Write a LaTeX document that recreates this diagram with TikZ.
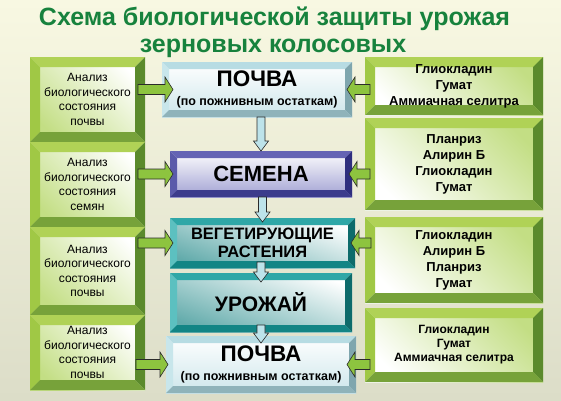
\documentclass[tikz,border=0pt]{standalone}
\usepackage{fontspec}
\setmainfont{Liberation Sans}
\usetikzlibrary{positioning, calc}

\definecolor{bgtop}{HTML}{F8F8E2}
\definecolor{bgbot}{HTML}{DCDDC8}
\definecolor{titlegreen}{HTML}{17823D}
\definecolor{gtop}{HTML}{B0D256}
\definecolor{gleft}{HTML}{A0C845}
\definecolor{gright}{HTML}{5B8A2C}
\definecolor{gbot}{HTML}{77A23A}
\definecolor{ginner}{HTML}{C3DE84}
\definecolor{ctop}{HTML}{B7DCE3}
\definecolor{cleft}{HTML}{C8E6EB}
\definecolor{cright}{HTML}{7FA6AE}
\definecolor{cbot}{HTML}{8FB3BA}
\definecolor{cinner}{HTML}{CDE6EB}
\definecolor{ptop}{HTML}{6464B4}
\definecolor{pleft}{HTML}{5A5AAA}
\definecolor{pright}{HTML}{2E2E7E}
\definecolor{pbot}{HTML}{3C3C8C}
\definecolor{pinner}{HTML}{A0A0D2}
\definecolor{ttop}{HTML}{2FA7A7}
\definecolor{tleft}{HTML}{5CC0C0}
\definecolor{tright}{HTML}{0D6B6B}
\definecolor{tbot}{HTML}{128585}
\definecolor{tinner}{HTML}{62ABAB}
\definecolor{agreen}{HTML}{8DC43F}
\definecolor{acyan}{HTML}{BDE3EA}
\definecolor{adark}{HTML}{2B2B2B}

\tikzset{
  bevel/.style n args={5}{path picture={
    \path (path picture bounding box.north west) coordinate (pa)
          (path picture bounding box.north east) coordinate (pb)
          (path picture bounding box.south east) coordinate (pc)
          (path picture bounding box.south west) coordinate (pd);
    \path ([xshift=#1,yshift=-#1]pa) coordinate (qa)
          ([xshift=-#1,yshift=-#1]pb) coordinate (qb)
          ([xshift=-#1,yshift=#1]pc) coordinate (qc)
          ([xshift=#1,yshift=#1]pd) coordinate (qd);
    \fill[#2] (pa) -- (pb) -- (qb) -- (qa) -- cycle;
    \fill[#3] (pa) -- (qa) -- (qd) -- (pd) -- cycle;
    \fill[#4] (pb) -- (pc) -- (qc) -- (qb) -- cycle;
    \fill[#5] (pd) -- (qd) -- (qc) -- (pc) -- cycle;
  }},
  box/.style={outer sep=0pt, inner sep=0pt, align=center},
  leftbox/.style={box, bevel={10pt}{gtop}{gleft}{gright}{gbot},
    top color=white, bottom color=ginner, shading angle=-45,
    minimum width=115pt, font=\fontsize{12}{14.5}\selectfont},
  rightbox/.style={box, bevel={10pt}{gtop}{gleft}{gright}{gbot},
    top color=ginner, bottom color=white, shading angle=-45,
    minimum width=178pt, font=\fontsize{13}{16}\selectfont\bfseries},
  soilbox/.style={box, bevel={7pt}{ctop}{cleft}{cright}{cbot},
    top color=white, bottom color=cinner, minimum width=190pt,
    font=\fontsize{12.5}{19}\selectfont\bfseries},
  seedbox/.style={box, bevel={7pt}{ptop}{pleft}{pright}{pbot},
    top color=white, bottom color=pinner, minimum width=182pt,
    font=\fontsize{22}{24}\selectfont\bfseries},
  plantbox/.style={box, bevel={7pt}{ttop}{tleft}{tright}{tbot},
    top color=white, bottom color=tinner, shading angle=-20,
    minimum width=182pt, font=\fontsize{22}{24}\selectfont\bfseries},
  title/.style={anchor=base, text=titlegreen, font=\fontsize{25}{27}\selectfont\bfseries},
  rarrow/.style={fill=agreen, draw=adark, line width=0.6pt, to path={
    let \p1=(\tikztostart), \p2=(\tikztotarget) in
    (\x1,\y2+5pt) -- (\x2-8pt,\y2+5pt) -- (\x2-8pt,\y2+12.5pt) -- (\x2,\y2)
    -- (\x2-8pt,\y2-12.5pt) -- (\x2-8pt,\y2-5pt) -- (\x1,\y2-5pt) -- cycle}},
  larrow/.style={fill=agreen, draw=adark, line width=0.6pt, to path={
    let \p1=(\tikztostart), \p2=(\tikztotarget) in
    (\x1,\y2+5pt) -- (\x2+8pt,\y2+5pt) -- (\x2+8pt,\y2+12.5pt) -- (\x2,\y2)
    -- (\x2+8pt,\y2-12.5pt) -- (\x2+8pt,\y2-5pt) -- (\x1,\y2-5pt) -- cycle}},
  darrow/.style={fill=acyan, draw=adark, line width=0.6pt, to path={
    let \p1=(\tikztostart), \p2=(\tikztotarget) in
    (\x2-4pt,\y1) -- (\x2-4pt,\y2+10pt) -- (\x2-7.5pt,\y2+10pt) -- (\x2,\y2)
    -- (\x2+7.5pt,\y2+10pt) -- (\x2+4pt,\y2+10pt) -- (\x2+4pt,\y1) -- cycle}}
}

\begin{document}
\begin{tikzpicture}[x=1pt, y=-1pt]
\shade[top color=bgtop, bottom color=bgbot] (0,0) rectangle (561,400);
\useasboundingbox (0,0) rectangle (561,400);

% title
\node[title] (t1) at (274.5,25) {Схема биологической защиты урожая};
\node[title] (t2) at (273,52) {зерновых колосовых};

% centre column
\node[soilbox, minimum height=55pt] (c1) at (257,89.5)
  {{\fontsize{22.5}{22}\selectfont ПОЧВА}\\(по пожнивным остаткам)};
\node[seedbox, minimum height=46pt, below=34pt of c1, xshift=4pt] (c2) {СЕМЕНА};
\node[plantbox, minimum width=185pt, minimum height=50pt, below=21pt of c2, xshift=1.5pt,
  font=\fontsize{16.5}{18}\selectfont\bfseries] (c3) {ВЕГЕТИРУЮЩИЕ\\РАСТЕНИЯ};
\node[plantbox, minimum height=59pt, below=5pt of c3, xshift=-1.5pt,
  font=\fontsize{21}{24}\selectfont\bfseries] (c4) {УРОЖАЙ};
\node[soilbox, minimum height=57pt, below=4pt of c4] (c5)
  {{\fontsize{22.5}{22}\selectfont ПОЧВА}\\(по пожнивным остаткам)};

% analysis boxes
\node[leftbox, minimum height=85pt] (l1) at (87.5,99.5)
  {Анализ\\биологического\\состояния\\почвы};
\node[leftbox, minimum height=85pt, below=0pt of l1] (l2)
  {Анализ\\биологического\\состояния\\семян};
\node[leftbox, minimum height=88pt, below=0pt of l2] (l3)
  {Анализ\\биологического\\состояния\\почвы};
\node[leftbox, minimum height=75pt, below=0pt of l3] (l4)
  {Анализ\\биологического\\состояния\\почвы};

% preparations
\node[rightbox, minimum height=58pt] (r1) at (454,86)
  {Глиокладин\\Гумат\\Аммиачная селитра};
\node[rightbox, minimum height=92pt, below=3pt of r1] (r2)
  {Планриз\\Алирин Б\\Глиокладин\\Гумат};
\node[rightbox, minimum height=86pt, below=7pt of r2] (r3)
  {Глиокладин\\Алирин Б\\Планриз\\Гумат};
\node[rightbox, minimum height=74pt, below=5pt of r3,
  font=\fontsize{12}{14}\selectfont\bfseries] (r4)
  {Глиокладин\\Гумат\\Аммиачная селитра};

% arrows
\draw[rarrow] ([xshift=-7pt]l1.east) to ([xshift=11pt]c1.west);
\draw[rarrow] ([xshift=-7pt]l2.east) to ([xshift=3pt]c2.west);
\draw[rarrow] ([xshift=-7pt]l3.east) to ([xshift=3pt]c3.west);
\draw[rarrow] ([xshift=-9pt]l4.east) to ([xshift=2pt]c5.west);
\draw[larrow] ([xshift=5pt]r1.west) to ([xshift=-5pt]c1.east);
\draw[larrow] ([xshift=5pt]r2.west) to ([xshift=-3pt]c2.east);
\draw[larrow] ([xshift=6pt]r3.west) to ([xshift=-4pt]c3.east);
\draw[larrow] ([xshift=5pt]r4.west) to ([xshift=-9pt]c5.east);
\draw[darrow] (c1.south) to (c2.north);
\draw[darrow] (c2.south) to ([yshift=-4pt]c3.north);
\draw[darrow] ([yshift=6pt]c3.south) to ([yshift=-9pt]c4.north);
\draw[darrow] ([yshift=7pt]c4.south) to ([yshift=-7pt]c5.north);
\end{tikzpicture}
\end{document}
